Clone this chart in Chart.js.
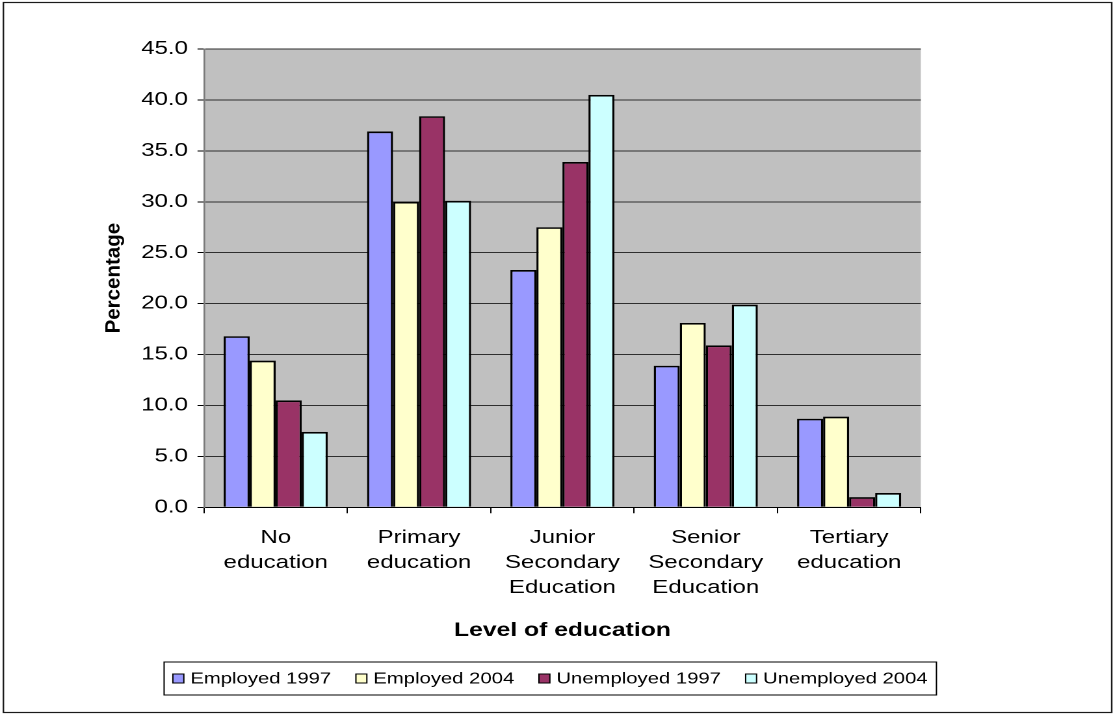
<!DOCTYPE html>
<html>
<head>
<meta charset="utf-8">
<title>Level of education</title>
<script src="https://cdn.jsdelivr.net/npm/chart.js@4/dist/chart.umd.min.js"></script>
<style>
  html, body { margin: 0; padding: 0; background: #fff; }
</style>
</head>
<body>
<!-- Laid out on an 856px-wide canvas and shown 1113px wide (wide, flattened look). -->
<canvas id="chart" width="856" height="715" style="display:block;width:1113px;height:715px"></canvas>
<script>
// Categories (multi-line axis labels)
const categories = [
  ['No', 'education'],
  ['Primary', 'education'],
  ['Junior', 'Secondary', 'Education'],
  ['Senior', 'Secondary', 'Education'],
  ['Tertiary', 'education']
];

// Series values (percentage of each group by level of education)
const employed1997   = [16.8, 36.9, 23.3, 13.9, 8.7];
const employed2004   = [14.4, 30.0, 27.5, 18.1, 8.9];
const unemployed1997 = [10.5, 38.4, 33.9, 15.9, 1.0];
const unemployed2004 = [7.4, 30.1, 40.5, 19.9, 1.4];

const seriesNames = ['Employed 1997', 'Employed 2004', 'Unemployed 1997', 'Unemployed 2004'];
const seriesColors = ['#9999FF', '#FFFFCC', '#993366', '#CCFFFF'];

// Y axis range, tick step and titles
const yMin = 0;
const yMax = 45;
const yStep = 5;
const yTitle = 'Percentage';
const xTitle = 'Level of education';

const FONT = '"Liberation Sans", Arial, Helvetica, sans-serif';
const STRETCH = 1113 / 856; // display width / canvas layout width
Chart.defaults.font.family = FONT;
Chart.defaults.color = '#000';

// Grey plot area
const plotBackground = {
  id: 'plotBackground',
  beforeDraw(chart) {
    const { ctx, chartArea: a } = chart;
    ctx.save();
    ctx.fillStyle = '#C0C0C0';
    ctx.fillRect(a.left, a.top, a.right - a.left, a.bottom - a.top);
    ctx.restore();
  }
};

// Vertical axis title, drawn with normal proportions (undo the horizontal stretch)
const verticalTitle = {
  id: 'verticalTitle',
  afterDraw(chart) {
    const { ctx, chartArea: a } = chart;
    ctx.save();
    ctx.translate(87.8, (a.top + a.bottom) / 2);
    ctx.scale(1 / STRETCH, 1);
    ctx.rotate(-Math.PI / 2);
    ctx.font = 'bold 20.5px ' + FONT;
    ctx.fillStyle = '#000';
    ctx.textAlign = 'center';
    ctx.textBaseline = 'middle';
    ctx.fillText(yTitle, 0, 0);
    ctx.restore();
  }
};

// Outer frame and boxed legend under the axis title
const frameAndLegend = {
  id: 'frameAndLegend',
  afterDraw(chart) {
    const { ctx } = chart;
    ctx.save();
    // outer frame
    ctx.strokeStyle = '#1a1a1a';
    ctx.lineWidth = 1.2;
    ctx.strokeRect(2.6, 2.5, 852.4, 710);

    // legend box
    const box = { left: 126.2, top: 662, right: 720.2, bottom: 695 };
    ctx.fillStyle = '#fff';
    ctx.fillRect(box.left, box.top, box.right - box.left, box.bottom - box.top);
    ctx.strokeStyle = '#000';
    ctx.lineWidth = 1;
    ctx.strokeRect(box.left, box.top, box.right - box.left, box.bottom - box.top);

    ctx.font = '15.6px ' + FONT;
    ctx.textBaseline = 'middle';
    ctx.textAlign = 'left';
    const sw = 8.4, sh = 9, gapText = 5, gapItem = 19;
    const items = chart.data.datasets.map(ds => ({
      label: ds.label, color: ds.backgroundColor, w: ctx.measureText(ds.label).width
    }));
    const total = items.reduce((s, it) => s + sw + gapText + it.w, 0) + gapItem * (items.length - 1);
    let x = (box.left + box.right) / 2 - total / 2;
    const cy = (box.top + box.bottom) / 2;
    items.forEach(it => {
      ctx.fillStyle = it.color;
      ctx.fillRect(x, cy - sh / 2, sw, sh);
      ctx.strokeStyle = '#000';
      ctx.lineWidth = 1;
      ctx.strokeRect(x, cy - sh / 2, sw, sh);
      ctx.fillStyle = '#000';
      ctx.fillText(it.label, x + sw + gapText, cy + 0.5);
      x += sw + gapText + it.w + gapItem;
    });
    ctx.restore();
  }
};

const seriesValues = [employed1997, employed2004, unemployed1997, unemployed2004];

new Chart(document.getElementById('chart'), {
  type: 'bar',
  data: {
    labels: categories,
    datasets: seriesNames.map((name, i) => ({
      label: name,
      data: seriesValues[i],
      backgroundColor: seriesColors[i],
      borderColor: '#000',
      borderWidth: 1.7,
      categoryPercentage: 0.726,
      barPercentage: 1.0
    }))
  },
  options: {
    responsive: false,
    devicePixelRatio: 2,
    animation: false,
    events: [],
    layout: { padding: { left: 0, top: 49, right: 147.8, bottom: 0 } },
    plugins: {
      legend: { display: false },
      tooltip: { enabled: false },
      title: { display: false }
    },
    scales: {
      x: {
        type: 'category',
        offset: true,
        grid: {
          offset: true,
          drawOnChartArea: false,
          drawTicks: true,
          tickLength: 6,
          color: '#000',
          lineWidth: 1
        },
        border: { display: true, color: '#000', width: 1 },
        ticks: {
          autoSkip: false,
          maxRotation: 0,
          minRotation: 0,
          padding: 12,
          color: '#000',
          font: { size: 18.5, lineHeight: 1.35 }
        },
        title: {
          display: true,
          text: xTitle,
          color: '#000',
          font: { size: 19, weight: 'bold', lineHeight: 1.2 },
          padding: { top: 0, bottom: 72.6 }
        },
        afterFit(scale) { scale.height = 207.7; }
      },
      y: {
        min: yMin,
        max: yMax,
        grid: {
          color: '#2e2e2e',
          lineWidth: 1,
          drawTicks: true,
          tickLength: 5,
          tickColor: '#000'
        },
        border: { display: true, color: '#7a7a7a', width: 1.3 },
        ticks: {
          stepSize: yStep,
          padding: 7.3,
          color: '#000',
          font: { size: 18.5 },
          callback: v => Number(v).toFixed(1)
        },
        title: { display: false },
        afterFit(scale) { scale.width = 156.9; }
      }
    }
  },
  plugins: [plotBackground, verticalTitle, frameAndLegend]
});
</script>
</body>
</html>
